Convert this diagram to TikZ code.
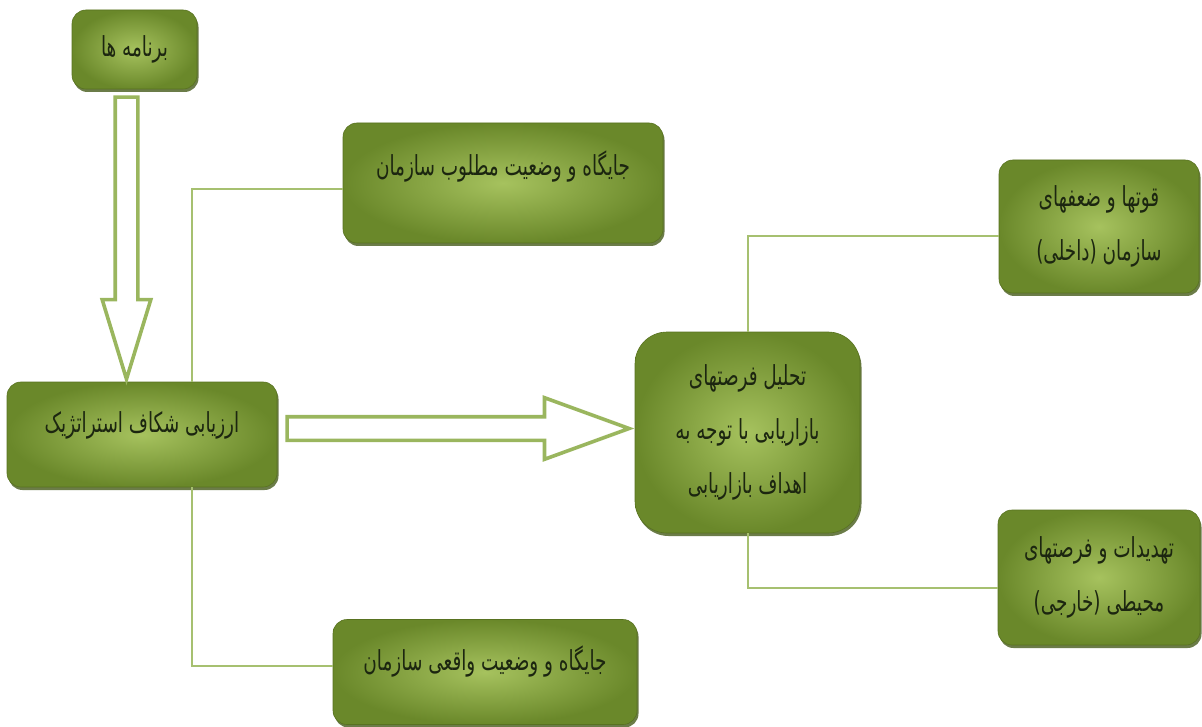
\documentclass[tikz,border=0pt]{standalone}
\usepackage{fontspec}
\usepackage{graphicx}
\newfontfamily\fafont[Script=Arabic]{DejaVu Sans}
\TeXXeTstate=1
\usetikzlibrary{shapes.arrows,shadows,calc}

\definecolor{boxdark}{RGB}{106,136,42}
\definecolor{boxlight}{RGB}{166,194,94}
\definecolor{boxedge}{RGB}{88,114,32}
\definecolor{linegreen}{RGB}{166,192,112}
\definecolor{arrowgreen}{RGB}{154,182,94}
\definecolor{txtdark}{RGB}{28,38,16}

\newcommand{\fa}[1]{\scalebox{0.97}[1.45]{\beginR #1\endR}}

\begin{document}
\begin{tikzpicture}[
  x=1pt, y=-1pt,
  font=\fafont\fontsize{19}{54}\selectfont,
  box/.style={rounded corners=14pt, inner color=boxlight, outer color=boxdark,
    draw=boxedge, line width=0.6pt, text=txtdark, align=center, inner sep=0pt,
    drop shadow={shadow xshift=1.5pt, shadow yshift=-3pt, fill=boxedge!80!black, opacity=0.8}},
  link/.style={draw=linegreen, line width=2pt},
  bigarrow/.style={single arrow, anchor=tail, draw=arrowgreen, line width=3.6pt, fill=white}
]
\useasboundingbox (0,0) rectangle (1202,727);

% boxes
\node[box, minimum width=125, minimum height=79] (a) at (134.5,49.5) {\fa{برنامه ها}};
\node[box, minimum width=320, minimum height=120] (b) at (503,183)
  {\raisebox{40pt}{\fa{جایگاه و وضعیت مطلوب سازمان}}};
\node[box, minimum width=270, minimum height=105] (c) at (142,434.5)
  {\raisebox{24pt}{\fa{ارزیابی شکاف استراتژیک}}};
\node[box, minimum width=304, minimum height=105] (d) at (485,672)
  {\raisebox{28pt}{\fa{جایگاه و وضعیت واقعی سازمان}}};
\node[box, rounded corners=32pt, minimum width=225, minimum height=201] (e) at (747.5,432.5)
  {\fa{تحلیل فرصتهای}\\\fa{بازاریابی با توجه به}\\\fa{اهداف بازاریابی}};
\node[box, minimum width=200, minimum height=133] (f) at (1099,226.5)
  {\fa{قوتها و ضعفهای}\\\fa{سازمان (داخلی)}};
\node[box, minimum width=202, minimum height=135] (g) at (1099,577.5)
  {\fa{تهدیدات و فرصتهای}\\\fa{محیطی (خارجی)}};

% thin links
\draw[link] ([xshift=50pt]c.north) |- ([yshift=-6pt]b.west);
\draw[link] ([xshift=50pt]c.south) |- ([yshift=6pt]d.west);
\draw[link] (e.north) |- ([yshift=-10pt]f.west);
\draw[link] (e.south) |- ([yshift=-10pt]g.west);

% hollow arrows
\node[bigarrow, inner sep=9.5pt, minimum height=282pt, single arrow head extend=13pt,
  single arrow tip angle=34, shape border rotate=270] (down)
  at ($(a.south)+(-8,6)$) {};
\node[bigarrow, inner sep=10pt, minimum height=342pt, single arrow head extend=19pt,
  single arrow tip angle=40] (across)
  at ($(c.east)+(8,-6)$) {};

\end{tikzpicture}
\end{document}
